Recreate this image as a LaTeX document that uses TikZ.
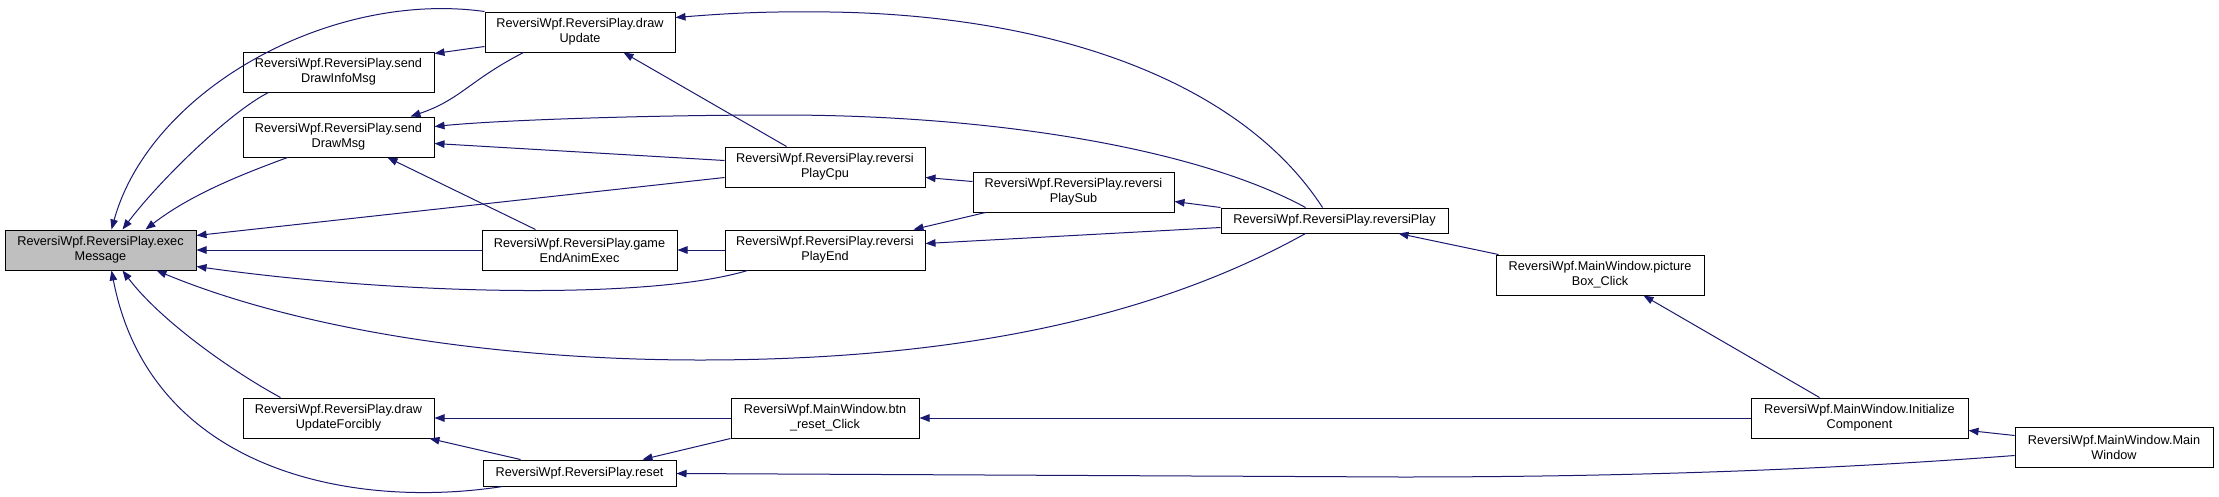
\documentclass[tikz,border=0pt]{standalone}
\usepackage{fontspec}
\setmainfont{Liberation Sans}
\usetikzlibrary{arrows.meta}
\definecolor{edgeblue}{HTML}{191970}
\definecolor{hlgray}{HTML}{BFBFBF}
\tikzset{
 fn/.style={draw=black, line width=1pt, fill=white, align=center, inner sep=0pt, minimum height=40pt, font=\fontsize{12.7}{15}\selectfont},
 callarrow/.style={draw=edgeblue, line width=1pt, -{Triangle[length=10pt,width=7.5pt]}},
}
\begin{document}
\begin{tikzpicture}[x=1pt,y=-1pt]
\useasboundingbox (0,0) rectangle (2219,496);
% nodes
\node[fn, fill=hlgray, minimum width=191pt] (execMessage) at (100.5,250) {ReversiWpf.ReversiPlay.exec\\Message};
\node[fn, minimum width=191pt] (sendDrawInfoMsg) at (338.5,72) {ReversiWpf.ReversiPlay.send\\DrawInfoMsg};
\node[fn, minimum width=191pt] (sendDrawMsg) at (338.5,137) {ReversiWpf.ReversiPlay.send\\DrawMsg};
\node[fn, minimum width=191pt] (drawUpdateForcibly) at (338.5,418) {ReversiWpf.ReversiPlay.draw\\UpdateForcibly};
\node[fn, minimum width=190pt] (drawUpdate) at (580,32) {ReversiWpf.ReversiPlay.draw\\Update};
\node[fn, minimum width=195pt] (gameEndAnimExec) at (579.5,250) {ReversiWpf.ReversiPlay.game\\EndAnimExec};
\node[fn, minimum width=193pt, minimum height=26pt] (reset) at (579.5,473) {ReversiWpf.ReversiPlay.reset};
\node[fn, minimum width=200pt] (reversiPlayCpu) at (825,167) {ReversiWpf.ReversiPlay.reversi\\PlayCpu};
\node[fn, minimum width=200pt] (reversiPlayEnd) at (825,250) {ReversiWpf.ReversiPlay.reversi\\PlayEnd};
\node[fn, minimum width=188pt] (btnResetClick) at (825,418) {ReversiWpf.MainWindow.btn\\\_reset\_Click};
\node[fn, minimum width=201pt] (reversiPlaySub) at (1073.5,192) {ReversiWpf.ReversiPlay.reversi\\PlaySub};
\node[fn, minimum width=227pt, minimum height=25pt] (reversiPlay) at (1334.5,220.5) {ReversiWpf.ReversiPlay.reversiPlay};
\node[fn, minimum width=208pt] (pictureBoxClick) at (1600,275) {ReversiWpf.MainWindow.picture\\Box\_Click};
\node[fn, minimum width=217pt] (initComponent) at (1859.5,418) {ReversiWpf.MainWindow.Initialize\\Component};
\node[fn, minimum width=198pt] (mainWindow) at (2114,447) {ReversiWpf.MainWindow.Main\\Window};
% edges into execMessage
\draw[callarrow] (drawUpdate.north west) .. controls (330,-10) and (150,90) .. ([xshift=107pt]execMessage.north west);
\draw[callarrow] ([xshift=26pt]sendDrawInfoMsg.south west) .. controls (230,112) and (160,180) .. ([xshift=118pt]execMessage.north west);
\draw[callarrow] ([xshift=45pt]sendDrawMsg.south west) .. controls (240,175) and (190,195) .. ([xshift=141pt]execMessage.north west);
\draw[callarrow] ([yshift=-31pt]reversiPlayCpu.north west) -- ([yshift=-6pt]execMessage.north east);
\draw[callarrow] (gameEndAnimExec.west) -- (execMessage.east);
\draw[callarrow] ([xshift=23pt]reversiPlayEnd.south west) .. controls (650,300) and (400,295) .. ([yshift=-37pt]execMessage.north east);
\draw[callarrow] ([xshift=85pt]reversiPlay.south west) .. controls (1150,320) and (950,360) .. (700,360) .. controls (500,360) and (300,330) .. ([xshift=152pt]execMessage.south west);
\draw[callarrow] ([xshift=38pt]drawUpdateForcibly.north west) .. controls (230,370) and (160,320) .. ([xshift=118pt]execMessage.south west);
\draw[callarrow] ([xshift=20pt]reset.south west) .. controls (350,510) and (150,470) .. ([xshift=107pt]execMessage.south west);
% edges into sendDrawInfoMsg / sendDrawMsg
\draw[callarrow] ([yshift=-35pt]drawUpdate.north west) -- ([yshift=-2pt]sendDrawInfoMsg.north east);
\draw[callarrow] ([xshift=39pt]drawUpdate.south west) .. controls (470,80) and (460,100) .. ([xshift=-24pt]sendDrawMsg.north east);
\draw[callarrow] ([xshift=85pt]reversiPlay.north west) .. controls (1200,150) and (1000,115) .. (780,115) .. controls (650,115) and (500,120) .. ([yshift=-10pt]sendDrawMsg.north east);
\draw[callarrow] ([yshift=-14pt]reversiPlayCpu.north west) -- ([yshift=-27pt]sendDrawMsg.north east);
\draw[callarrow] ([xshift=54pt]gameEndAnimExec.north west) -- ([xshift=-47pt]sendDrawMsg.south east);
% edges into drawUpdate
\draw[callarrow] ([xshift=102pt]reversiPlay.north west) .. controls (1240,80) and (1050,15) .. (830,12) .. controls (760,11) and (720,14) .. ([yshift=-6pt]drawUpdate.north east);
\draw[callarrow] ([xshift=62pt]reversiPlayCpu.north west) -- ([xshift=-52pt]drawUpdate.south east);
% middle column
\draw[callarrow] (reversiPlayEnd.west) -- (gameEndAnimExec.east);
\draw[callarrow] ([yshift=-10pt]reversiPlaySub.north west) -- ([yshift=-31pt]reversiPlayCpu.north east);
\draw[callarrow] ([xshift=13pt]reversiPlaySub.south west) -- ([xshift=-12pt]reversiPlayEnd.north east);
\draw[callarrow] (reversiPlay.north west) -- ([yshift=-30pt]reversiPlaySub.north east);
\draw[callarrow] ([yshift=-20pt]reversiPlay.north west) -- ([yshift=-14pt]reversiPlayEnd.north east);
% right side
\draw[callarrow] ([xshift=3pt]pictureBoxClick.north west) -- ([xshift=-50pt]reversiPlay.south east);
\draw[callarrow] ([xshift=69pt]initComponent.north west) -- ([xshift=-61pt]pictureBoxClick.south east);
\draw[callarrow] ([yshift=-9pt]mainWindow.north west) -- ([yshift=-33pt]initComponent.north east);
% lower part
\draw[callarrow] (btnResetClick.west) -- (drawUpdateForcibly.east);
\draw[callarrow] (btnResetClick.south west) -- ([xshift=-34pt]reset.north east);
\draw[callarrow] (initComponent.west) -- (btnResetClick.east);
\draw[callarrow] ([yshift=-29pt]mainWindow.north west) .. controls (1850,468) and (1650,477) .. (1400,477) -- ([yshift=-14pt]reset.north east);
\draw[callarrow] ([xshift=38pt]reset.north west) -- ([xshift=-5pt]drawUpdateForcibly.south east);
\end{tikzpicture}
\end{document}
